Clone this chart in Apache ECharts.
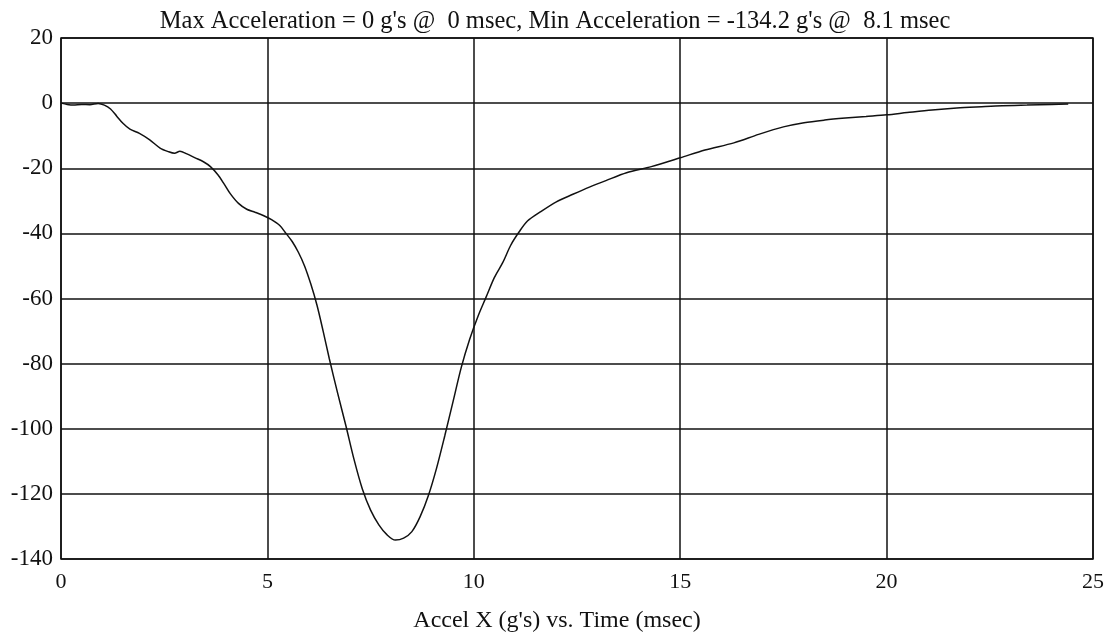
<!DOCTYPE html>
<html>
<head>
<meta charset="utf-8">
<script src="https://cdn.jsdelivr.net/npm/echarts@6/dist/echarts.min.js"></script>
<style>
  html, body { margin: 0; padding: 0; background: #fff; }
  #chart { width: 1114px; height: 638px; }
</style>
</head>
<body>
<div id="chart"></div>
<script>
// Crash pulse: acceleration along X (g's) against time (msec)
const timeMs = [
  0, 0.15, 0.3, 0.5, 0.7, 0.9, 1.05, 1.2, 1.35, 1.5, 1.67, 1.9, 2.15, 2.4, 2.6, 2.75, 2.88,
  3.05, 3.25, 3.45, 3.62, 3.8, 3.95, 4.1, 4.3, 4.5, 4.7, 4.9, 5.1, 5.3, 5.45, 5.6, 5.75, 5.9,
  6.05, 6.2, 6.35, 6.5, 6.7, 6.9, 7.1, 7.3, 7.5, 7.7, 7.9, 8.1, 8.3, 8.5, 8.7, 8.9, 9.1, 9.3,
  9.5, 9.7, 9.9, 10.1, 10.3, 10.5, 10.7, 10.9, 11.1, 11.3, 11.6, 12.0, 12.4, 12.8, 13.2, 13.7,
  14.3, 15.0, 15.6, 16.3, 16.9, 17.5, 18.0, 18.5, 19.0, 19.5, 20.0, 20.5, 21.1, 21.7, 22.3,
  22.8, 23.4, 24.0, 24.4
];
const accelX = [
  0, -0.4, -0.6, -0.4, -0.5, -0.1, -0.6, -1.8, -4.0, -6.2, -8.0, -9.3, -11.3, -13.8, -14.9, -15.4, -14.8,
  -15.6, -16.8, -18.0, -19.5, -22.0, -24.8, -27.8, -30.8, -32.6, -33.5, -34.5, -35.8, -37.6, -40.0, -42.5, -45.8, -50.0,
  -55.5, -62.0, -70.0, -78.5, -89.0, -99.0, -109.5, -118.5, -125.0, -129.5, -132.6, -134.2, -133.6, -131.6, -127.0, -120.5, -112.0, -102.0,
  -91.5, -81.0, -72.5, -65.5, -59.5, -53.5, -49.0, -43.5, -39.5, -36.2, -33.5, -30.3, -28.0, -25.8, -23.8, -21.4,
  -19.5, -16.8, -14.4, -12.2, -9.6, -7.3, -6.0, -5.2, -4.6, -4.1, -3.6, -2.9, -2.1, -1.5, -1.1,
  -0.8, -0.6, -0.4, -0.3
];

const titleText = "Max Acceleration = 0 g's @  0 msec, Min Acceleration = -134.2 g's @  8.1 msec";
const xAxisTitle = "Accel X (g's) vs. Time (msec)";

const serif = "'Liberation Serif', 'DejaVu Serif', serif";
const chart = echarts.init(document.getElementById('chart'), null, { renderer: 'canvas' });

chart.setOption({
  animation: false,
  backgroundColor: '#ffffff',
  title: {
    text: titleText,
    left: 550,
    top: 4,
    textAlign: 'center',
    textStyle: { fontFamily: serif, fontSize: 24.5, fontWeight: 'normal', color: '#111' }
  },
  grid: { left: 61, right: 21, top: 38, bottom: 78, show: true, borderColor: '#111', borderWidth: 1.5 },
  xAxis: {
    type: 'value',
    min: 0, max: 25, interval: 5,
    name: xAxisTitle,
    nameLocation: 'middle',
    nameGap: 50,
    nameTextStyle: { fontFamily: serif, fontSize: 24, color: '#111', padding: [0, 40, 0, 0] },
    axisLine: { show: false },
    axisTick: { show: false },
    axisLabel: { fontFamily: serif, fontSize: 22, color: '#111', margin: 12 },
    splitLine: { show: true, lineStyle: { color: '#111', width: 1.5 } }
  },
  yAxis: {
    type: 'value',
    min: -140, max: 20, interval: 20,
    axisLine: { show: false },
    axisTick: { show: false },
    axisLabel: { fontFamily: serif, fontSize: 23, color: '#111', margin: 8 },
    splitLine: { show: true, lineStyle: { color: '#111', width: 1.5 } }
  },
  series: [{
    type: 'line',
    data: timeMs.map((t, i) => [t, accelX[i]]),
    showSymbol: false,
    smooth: 0.3,
    lineStyle: { color: '#111', width: 1.5 }
  }]
});
</script>
</body>
</html>
